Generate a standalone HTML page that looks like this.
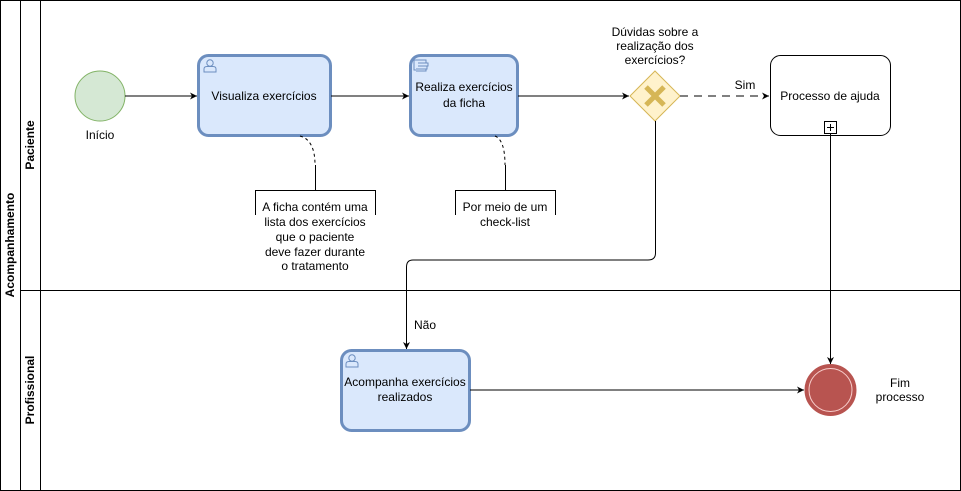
<!DOCTYPE html>
<html><head><meta charset="utf-8"><style>
html,body{margin:0;padding:0;background:#fff;}
svg{display:block;font-family:"Liberation Sans",Arial,sans-serif;}
</style></head><body>
<svg width="961" height="491" viewBox="0 0 961 491" xmlns="http://www.w3.org/2000/svg">
<defs>
<marker id="a" markerWidth="8" markerHeight="8" refX="7" refY="4" orient="auto" markerUnits="userSpaceOnUse">
<path d="M0,0.5 L7,4 L0,7.5 L2,4 Z" fill="#000"/></marker>
<g id="user" fill="none" stroke="#6c8ebf" stroke-width="1">
<circle cx="8" cy="5" r="3.2"/><path d="M2,14 L2,11 Q2,8.5 5,8.5 L11,8.5 Q14,8.5 14,11 L14,14 Z"/>
</g>
</defs>
<rect x="0.5" y="0.5" width="960" height="490" fill="#fff" stroke="#000"/>
<line x1="20.5" y1="0" x2="20.5" y2="491" stroke="#000"/>
<line x1="40.5" y1="0" x2="40.5" y2="491" stroke="#000"/>
<line x1="20" y1="290.5" x2="961" y2="290.5" stroke="#000"/>
<text transform="translate(14,245) rotate(-90)" text-anchor="middle" font-size="12" font-weight="bold">Acompanhamento</text>
<text transform="translate(34,145) rotate(-90)" text-anchor="middle" font-size="12" font-weight="bold">Paciente</text>
<text transform="translate(34,390) rotate(-90)" text-anchor="middle" font-size="12" font-weight="bold">Profissional</text>

<circle cx="100" cy="96" r="25" fill="#d5e8d4" stroke="#82b366"/>
<text x="100" y="139" text-anchor="middle" font-size="12">Início</text>
<line x1="125" y1="96" x2="197" y2="96" stroke="#000" marker-end="url(#a)"/>

<rect x="198.5" y="55.5" width="132" height="80" rx="10" fill="#dae8fc" stroke="#6c8ebf" stroke-width="3"/>
<use href="#user" x="202" y="58"/>
<text x="264" y="100" text-anchor="middle" font-size="12">Visualiza exercícios</text>
<line x1="331" y1="96" x2="409" y2="96" stroke="#000" marker-end="url(#a)"/>

<rect x="410.5" y="55.5" width="107" height="80" rx="10" fill="#dae8fc" stroke="#6c8ebf" stroke-width="3"/>
<path d="M414,60 h12 v3 h-8 M418,63 h10 v3 h-10 M418,66 h9 v3 h-9 M416,69 h10 v2 h-10 M414,60 v10 h2" fill="none" stroke="#6c8ebf"/>
<text x="464" y="91" text-anchor="middle" font-size="12">Realiza exercícios</text>
<text x="464" y="107" text-anchor="middle" font-size="12">da ficha</text>
<line x1="518" y1="96" x2="629" y2="96" stroke="#000" marker-end="url(#a)"/>

<path d="M655,71 L680,96 L655,121 L630,96 Z" fill="#fff2cc" stroke="#d6b656"/>
<path d="M646,87 L664,105 M664,87 L646,105" stroke="#d6b656" stroke-width="5"/>
<text x="655" y="36" text-anchor="middle" font-size="12">Dúvidas sobre a</text>
<text x="655" y="50" text-anchor="middle" font-size="12">realização dos</text>
<text x="655" y="64" text-anchor="middle" font-size="12">exercícios?</text>
<line x1="680" y1="96" x2="769" y2="96" stroke="#000" stroke-dasharray="8,6" marker-end="url(#a)"/>
<text x="745" y="89" text-anchor="middle" font-size="12">Sim</text>

<rect x="770.5" y="55.5" width="120" height="80" rx="10" fill="#fff" stroke="#000"/>
<text x="830" y="100" text-anchor="middle" font-size="12">Processo de ajuda</text>
<rect x="824.5" y="121.5" width="12" height="12" fill="#fff" stroke="#000"/>
<path d="M827,127.5 h7 M830.5,124 v7" stroke="#000"/>
<line x1="830.5" y1="134" x2="830.5" y2="364" stroke="#000" marker-end="url(#a)"/>

<path d="M655.5,121 V253 Q655.5,260 648,260 H413 Q406.5,260 406.5,267 V349" fill="none" stroke="#000" marker-end="url(#a)"/>
<text x="425" y="329" text-anchor="middle" font-size="12">Não</text>

<path d="M300,136 Q315,140 315,165" fill="none" stroke="#000" stroke-dasharray="3,3"/>
<line x1="315.5" y1="165" x2="315.5" y2="190" stroke="#000"/>
<path d="M255.5,215 V190.5 H375.5 V215" fill="none" stroke="#000"/>
<text x="315" y="211" text-anchor="middle" font-size="12">A ficha contém uma</text>
<text x="315" y="226" text-anchor="middle" font-size="12">lista dos exercícios</text>
<text x="315" y="241" text-anchor="middle" font-size="12">que o paciente</text>
<text x="315" y="256" text-anchor="middle" font-size="12">deve fazer durante</text>
<text x="315" y="270" text-anchor="middle" font-size="12">o tratamento</text>

<path d="M495,136 Q505,140 505,165" fill="none" stroke="#000" stroke-dasharray="3,3"/>
<line x1="505.5" y1="165" x2="505.5" y2="190" stroke="#000"/>
<path d="M455.5,215 V190.5 H555.5 V215" fill="none" stroke="#000"/>
<text x="505" y="211" text-anchor="middle" font-size="12">Por meio de um</text>
<text x="505" y="226" text-anchor="middle" font-size="12">check-list</text>

<rect x="341.5" y="350.5" width="128" height="80" rx="10" fill="#dae8fc" stroke="#6c8ebf" stroke-width="3"/>
<use href="#user" x="344" y="353"/>
<text x="405" y="386" text-anchor="middle" font-size="12">Acompanha exercícios</text>
<text x="405" y="401" text-anchor="middle" font-size="12">realizados</text>
<line x1="470" y1="390" x2="804" y2="390" stroke="#000" marker-end="url(#a)"/>

<circle cx="830.5" cy="390" r="24.5" fill="#b85450" stroke="#b85450" stroke-width="3"/>
<circle cx="830.5" cy="390" r="21.5" fill="none" stroke="#f8cecc" stroke-width="1"/>
<text x="900" y="387" text-anchor="middle" font-size="12">Fim</text>
<text x="900" y="401" text-anchor="middle" font-size="12">processo</text>
</svg>
</body></html>
